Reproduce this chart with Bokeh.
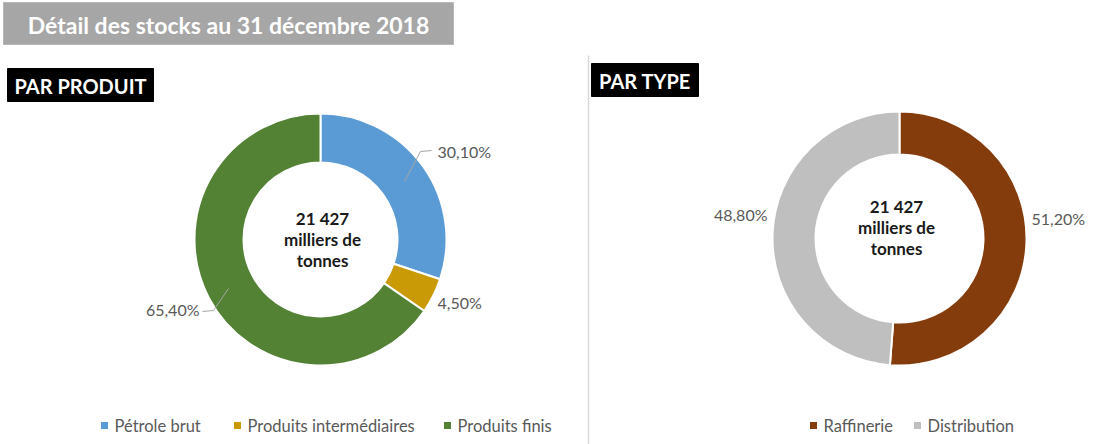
import numpy as np
from bokeh.plotting import figure
from bokeh.models import Range1d
from bokeh.core.properties import value
from bokeh.embed import file_html
from bokeh.resources import INLINE

# ---- data ----
title_text = "Détail des stocks au 31 décembre 2018"
prod_header = "PAR PRODUIT"
type_header = "PAR TYPE"
center_lines = ["21 427", "milliers de", "tonnes"]

prod_categories = ["Pétrole brut", "Produits intermédiaires", "Produits finis"]
prod_values = [30.10, 4.50, 65.40]
prod_colors = ["#5B9BD5", "#C99A06", "#548235"]

type_categories = ["Raffinerie", "Distribution"]
type_values = [51.20, 48.80]
type_colors = ["#843C0C", "#BFBFBF"]

FONT = value("Lato")
LABEL_COLOR = "#595959"


def fmt(v):
    return ("%.2f%%" % v).replace(".", ",")


def angles(vals):
    v = np.asarray(vals, dtype=float)
    frac = v / v.sum()
    cum = np.concatenate([[0], np.cumsum(frac)])
    start = np.pi / 2 - 2 * np.pi * cum[:-1]
    end = np.pi / 2 - 2 * np.pi * cum[1:]
    return start, end


p = figure(width=1096, height=444, output_backend="svg", toolbar_location=None,
           x_range=Range1d(0, 1096), y_range=Range1d(-444, 0), min_border=0)
p.axis.visible = False
p.grid.visible = False
p.outline_line_color = None
p.background_fill_color = "white"

# title banner
p.quad(left=[3], right=[453], top=[-2], bottom=[-44], fill_color="#A6A6A6", line_color="#B8B8B8")
p.text(x=[228], y=[-24], text=[title_text], text_font=FONT, text_font_style="bold",
       text_font_size="23px", text_color="white", text_align="center", text_baseline="middle")

# section headers
p.quad(left=[7], right=[153], top=[-68], bottom=[-101], fill_color="black", line_color="black")
p.text(x=[80], y=[-85], text=[prod_header], text_font=FONT, text_font_style="bold",
       text_font_size="20px", text_color="white", text_align="center", text_baseline="middle")
p.quad(left=[591], right=[698], top=[-63], bottom=[-96], fill_color="black", line_color="black")
p.text(x=[644.5], y=[-80], text=[type_header], text_font=FONT, text_font_style="bold",
       text_font_size="20px", text_color="white", text_align="center", text_baseline="middle")

# separator
p.segment(x0=[588], y0=[-55], x1=[588], y1=[-444], line_color="#D9D9D9", line_width=1.5)

# donut 1
s1, e1 = angles(prod_values)
p.annular_wedge(x=320, y=-239, inner_radius=77, outer_radius=126,
                inner_radius_units="screen", outer_radius_units="screen",
                start_angle=s1, end_angle=e1, direction="clock",
                fill_color=prod_colors, line_color="white", line_width=2)
# donut 2
s2, e2 = angles(type_values)
p.annular_wedge(x=899, y=-238, inner_radius=84, outer_radius=127,
                inner_radius_units="screen", outer_radius_units="screen",
                start_angle=s2, end_angle=e2, direction="clock",
                fill_color=type_colors, line_color="white", line_width=2)

# center texts
for i, t in enumerate(center_lines):
    p.text(x=[322], y=[-218 - 21 * i], text=[t], text_font=FONT, text_font_style="bold",
           text_font_size="17px", text_color="#1A1A1A", text_align="center", text_baseline="middle")
    p.text(x=[896], y=[-206 - 21 * i], text=[t], text_font=FONT, text_font_style="bold",
           text_font_size="17px", text_color="#1A1A1A", text_align="center", text_baseline="middle")

# leader lines
p.line(x=[404, 420, 431], y=[-181, -151, -150], line_color="#A6A6A6", line_width=1)
p.line(x=[228, 213, 202], y=[-288, -310, -311], line_color="#A6A6A6", line_width=1)

# data labels
prod_label_pos = [(437, -151, "left"), (437, -302, "left"), (199, -309, "right")]
for (lx, ly, al), v in zip(prod_label_pos, prod_values):
    p.text(x=[lx], y=[ly], text=[fmt(v)], text_font=FONT, text_font_size="16px",
           text_color=LABEL_COLOR, text_align=al, text_baseline="middle")
type_label_pos = [(1031, -218, "left"), (767, -214, "right")]
for (lx, ly, al), v in zip(type_label_pos, type_values):
    p.text(x=[lx], y=[ly], text=[fmt(v)], text_font=FONT, text_font_size="16px",
           text_color=LABEL_COLOR, text_align=al, text_baseline="middle")

# legends
prod_leg_x = [104, 237, 447]
for lx, c, name in zip(prod_leg_x, prod_colors, prod_categories):
    p.scatter(x=[lx], y=[-425], marker="square", size=7, fill_color=c, line_color=None)
    p.text(x=[lx + 10], y=[-425], text=[name], text_font=FONT, text_font_size="16.5px",
           text_color=LABEL_COLOR, text_align="left", text_baseline="middle")
type_leg_x = [813, 917]
for lx, c, name in zip(type_leg_x, type_colors, type_categories):
    p.scatter(x=[lx], y=[-425], marker="square", size=7, fill_color=c, line_color=None)
    p.text(x=[lx + 10], y=[-425], text=[name], text_font=FONT, text_font_size="16.5px",
           text_color=LABEL_COLOR, text_align="left", text_baseline="middle")

open("out.html", "w").write(file_html(p, INLINE))
